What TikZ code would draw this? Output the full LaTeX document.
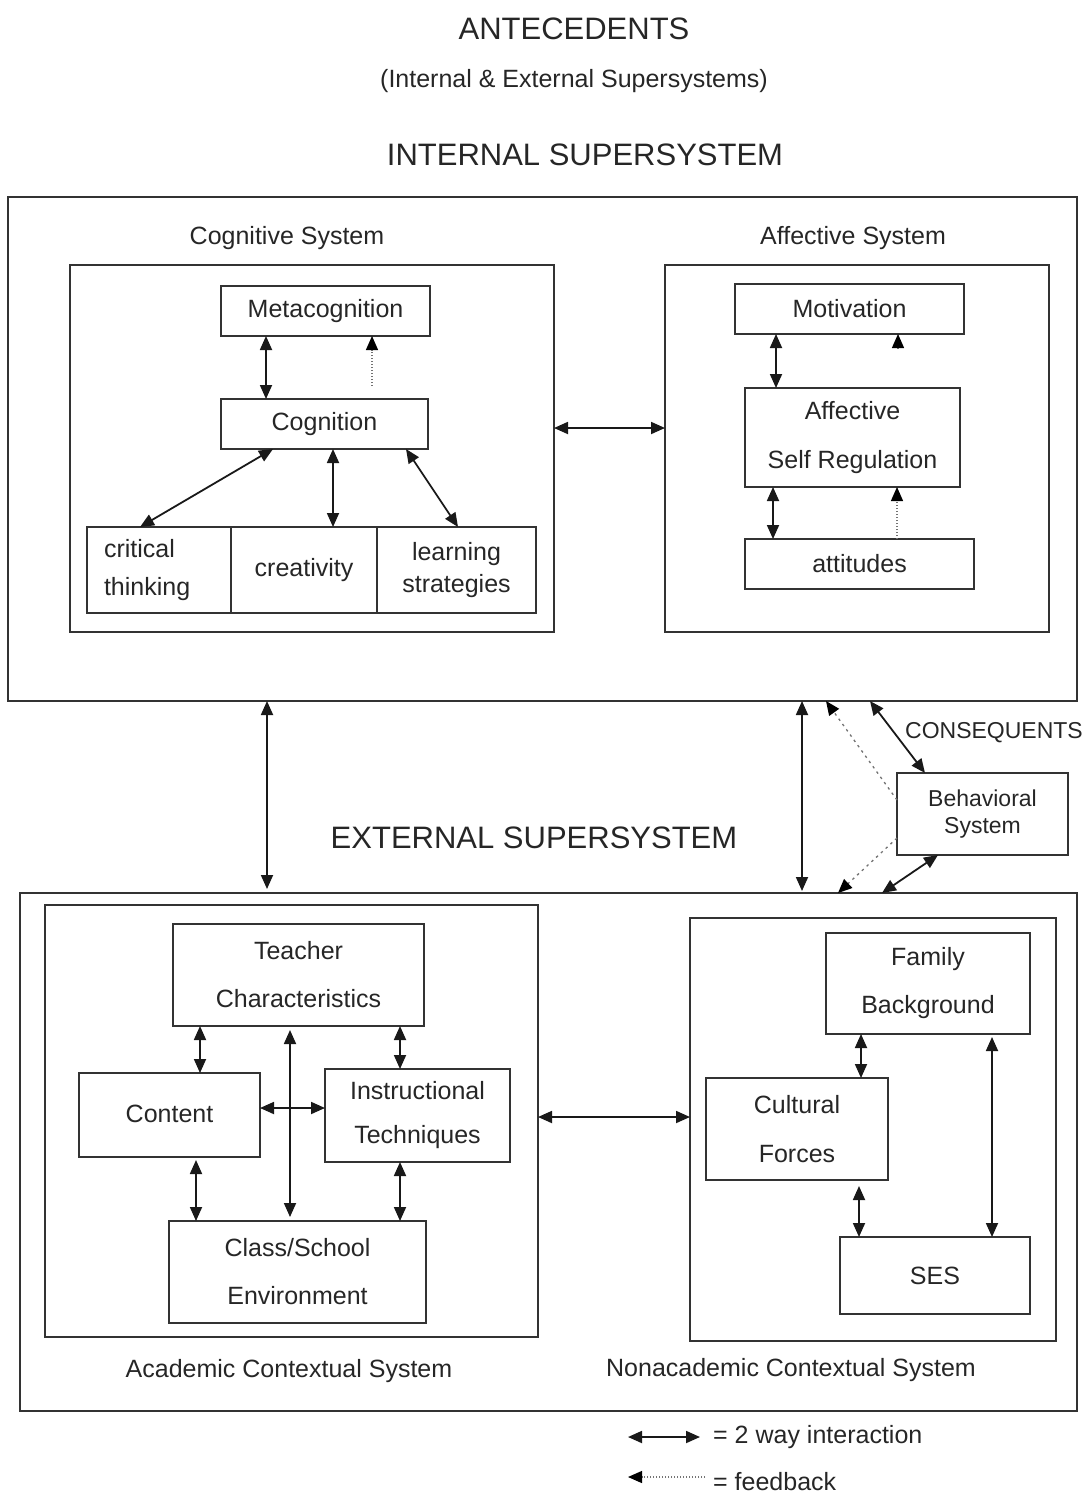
\documentclass[tikz,border=0pt]{standalone}
\usepackage{fontspec}
\setmainfont{Liberation Sans}
\usetikzlibrary{arrows.meta}
\begin{document}
\begin{tikzpicture}[x=1pt,y=-1pt,
  every node/.style={text=black!85},
  box/.style={draw=black!80,line width=2pt,outer sep=0pt,inner sep=0pt,align=center,font=\fontsize{25}{30}\selectfont},
  lsp/.style={font=\fontsize{25}{#1}\selectfont},
  lbl/.style={font=\fontsize{25}{30}\selectfont},
  ttl/.style={font=\fontsize{31}{36}\selectfont},
  biarrow/.style={line width=1.8pt,draw=black!90,{Triangle[length=14pt,width=12pt]}-{Triangle[length=14pt,width=12pt]}},
  fback/.style={line width=1.3pt,draw=black!55,dash pattern=on 1.5pt off 1.5pt,-{Triangle[length=14pt,width=12pt,color=black]}},
  fbacksp/.style={fback,dash pattern=on 2.5pt off 4pt}
]
\useasboundingbox (0,0) rectangle (1091,1494);
% titles
\node[ttl] (ant) at (574,29) {ANTECEDENTS};
\node[lbl] (sub) at (574,81) {(Internal \& External Supersystems)};
\node[ttl] (intt) at (585,155) {INTERNAL SUPERSYSTEM};
\node[ttl] (extt) at (534,838) {EXTERNAL SUPERSYSTEM};
% internal
\node[box,minimum width=1069,minimum height=504] (internal) at (542.5,449) {};
\node[lbl] (cogl) at (287,238) {Cognitive System};
\node[lbl] (affl) at (853,238) {Affective System};
\node[box,minimum width=484,minimum height=367] (cogsys) at (312,448.5) {};
\node[box,minimum width=384,minimum height=367] (affsys) at (857,448.5) {};
\node[box,minimum width=209,minimum height=50] (meta) at (325.5,311) {\raisebox{-3pt}{Metacognition}};
\node[box,minimum width=207,minimum height=50] (cog) at (324.5,424) {\raisebox{-3pt}{Cognition}};
\node[box,minimum width=144,minimum height=86,text width=110,align=left,lsp=38] (crit) at (159,570) {critical\\thinking};
\node[box,minimum width=146,minimum height=86] (creat) at (304,570) {\raisebox{-3pt}{creativity}};
\node[box,minimum width=159,minimum height=86,lsp=32] (learn) at (456.5,570) {learning\\strategies};
\node[box,minimum width=229,minimum height=50] (motiv) at (849.5,309) {\raisebox{-2pt}{Motivation}};
\node[box,minimum width=215,minimum height=99,lsp=49] (asr) at (852.5,437.5) {Affective\\Self Regulation};
\node[box,minimum width=229,minimum height=50] (att) at (859.5,564) {\raisebox{-2pt}{attitudes}};
% internal arrows
\draw[biarrow] ([xshift=-59.5]meta.south) -- ([xshift=-58.5]cog.north);
\draw[fback] ([xshift=47.5,yshift=13]cog.north) -- ([xshift=46.5]meta.south);
\draw[biarrow] ([xshift=-51.5]cog.south) -- ([xshift=-19]crit.north);
\draw[biarrow] ([xshift=8.5]cog.south) -- ([xshift=29]creat.north);
\draw[biarrow] ([xshift=81.5]cog.south) -- ([xshift=1.5]learn.north);
\draw[biarrow] ([yshift=20.5]cogsys.east) -- ([yshift=20.5]affsys.west);
\draw[biarrow] ([xshift=-73.5]motiv.south) -- ([xshift=-76.5]asr.north);
\draw[fback] ([xshift=48.5,yshift=-15]motiv.south) -- ([xshift=48.5]motiv.south);
\draw[biarrow] ([xshift=-79.5]asr.south) -- ([xshift=-86.5]att.north);
\draw[fback] ([xshift=37.5]att.north) -- ([xshift=44.5]asr.south);
% behavioral
\node[box,minimum width=171,minimum height=82,font=\fontsize{23}{27}\selectfont] (behav) at (982.5,814) {Behavioral\\System};
\node[font=\fontsize{23}{28}\selectfont,anchor=west,inner sep=0pt] (cons) at (905,733) {CONSEQUENTS};
% external
\node[box,minimum width=1057,minimum height=518] (external) at (548.5,1152) {};
\node[box,minimum width=493,minimum height=432] (acad) at (291.5,1121) {};
\node[box,minimum width=366,minimum height=423] (nonac) at (873,1129.5) {};
\node[lbl] (acadl) at (289,1371) {Academic Contextual System};
\node[lbl] (nonacl) at (791,1370) {Nonacademic Contextual System};
\node[box,minimum width=251,minimum height=102,lsp=48] (teach) at (298.5,975) {Teacher\\Characteristics};
\node[box,minimum width=181,minimum height=84] (content) at (169.5,1115) {\raisebox{2pt}{Content}};
\node[box,minimum width=185,minimum height=93,lsp=44] (instr) at (417.5,1115.5) {Instructional\\Techniques};
\node[box,minimum width=257,minimum height=102,lsp=48] (class) at (297.5,1272) {Class/School\\Environment};
\node[box,minimum width=204,minimum height=101,lsp=48] (family) at (928,983.5) {Family\\Background};
\node[box,minimum width=182,minimum height=102,lsp=49] (cult) at (797,1129) {Cultural\\Forces};
\node[box,minimum width=190,minimum height=77] (ses) at (935,1275.5) {SES};
% between supersystems
\draw[biarrow] ([xshift=-275.5]internal.south) -- ([xshift=-281.5,yshift=4]external.north);
\draw[biarrow] ([xshift=259.5]internal.south) -- ([xshift=253.5,yshift=2]external.north);
\draw[fbacksp] ([yshift=14]behav.west) -- ([xshift=283.5]internal.south);
\draw[biarrow] ([xshift=327.5]internal.south) -- ([xshift=-57.5]behav.north);
\draw[fbacksp] ([yshift=-24]behav.west) -- ([xshift=289.5]external.north);
\draw[biarrow] ([xshift=-44.5]behav.south) -- ([xshift=333.5]external.north);
% external arrows
\draw[biarrow] ([yshift=4]acad.east) -- ([yshift=12.5]nonac.west);
\draw[biarrow] ([xshift=-98.5]teach.south) -- ([xshift=30.5]content.north);
\draw[biarrow] ([xshift=101.5]teach.south) -- ([xshift=-17.5]instr.north);
\draw[biarrow] ([xshift=-8.5,yshift=-4]teach.south) -- ([xshift=-7.5,yshift=4]class.north);
\draw[biarrow] ([yshift=7]content.east) -- ([yshift=7.5]instr.west);
\draw[biarrow] ([xshift=26.5,yshift=-3]content.south) -- ([xshift=-101.5]class.north);
\draw[biarrow] ([xshift=-17.5]instr.south) -- ([xshift=102.5]class.north);
\draw[biarrow] ([xshift=-67]family.south) -- ([xshift=64]cult.north);
\draw[biarrow] ([xshift=62,yshift=-6]cult.south) -- ([xshift=-76]ses.north);
\draw[biarrow] ([xshift=64,yshift=-3]family.south) -- ([xshift=57]ses.north);
% legend
\coordinate (l1a) at (628,1437);
\coordinate (l1b) at (700,1437);
\coordinate (l2a) at (628,1477);
\coordinate (l2b) at (705,1477);
\draw[biarrow] (l1a) -- (l1b);
\draw[fback] (l2b) -- (l2a);
\node[lbl,anchor=west,inner sep=0pt] (leg1) at (713,1437) {= 2 way interaction};
\node[lbl,anchor=west,inner sep=0pt] (leg2) at (713,1482) {= feedback};
\end{tikzpicture}
\end{document}
